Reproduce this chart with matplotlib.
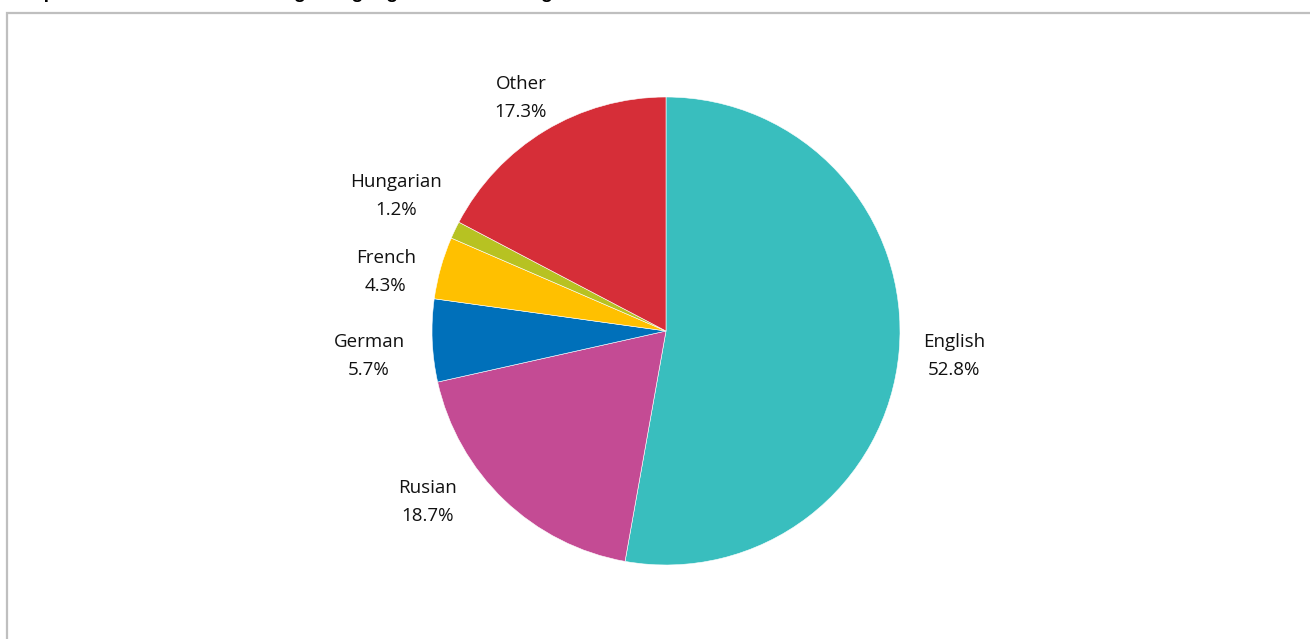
import numpy as np
import matplotlib
matplotlib.use("Agg")
import matplotlib.pyplot as plt
from matplotlib.patches import Rectangle

# --- DATA ---
languages = ["English", "Rusian", "German", "French", "Hungarian", "Other"]
shares = [52.8, 18.7, 5.7, 4.3, 1.2, 17.3]
colors = ["#39BEBE", "#C44B94", "#0070BA", "#FFC000", "#B7C222", "#D62E38"]
title = "Graph 1. Share of titles in foreign languages in the holdings"

# label centres, in units of the pie radius (Excel "best fit" placement)
label_pos = {
    "English": (1.231, -0.107),
    "Rusian": (-1.021, -0.731),
    "German": (-1.269, -0.107),
    "French": (-1.197, 0.252),
    "Hungarian": (-1.154, 0.577),
    "Other": (-0.620, 0.996),
}

W, H = 1310, 639
CX, CY, R = 666, 331, 234  # pie centre and radius in pixels

fig = plt.figure(figsize=(W / 100, H / 100), dpi=100)
ax = fig.add_axes([0, 0, 1, 1])
ax.axis("off")

wedges, _ = ax.pie(shares, colors=colors, startangle=90, counterclock=False,
                   radius=1, wedgeprops=dict(edgecolor="white", linewidth=0.4))

# map pixels to radius units so the pie lands where it should
ax.set_xlim(-CX / R, (W - CX) / R)
ax.set_ylim(-(H - CY) / R, CY / R)
ax.set_aspect("auto")

for lang, val in zip(languages, shares):
    x, y = label_pos[lang]
    ax.text(x, y, f"{lang}\n{val:.1f}%", ha="center", va="center",
            fontsize=13.5, family="Open Sans", linespacing=1.7, color="#111111")

# chart frame (runs off the right and bottom edges)
top = 1 - 13 / H
fig.patches.append(Rectangle((7 / W, -0.2), 1.2, top + 0.2,
                             transform=fig.transFigure, fill=False,
                             edgecolor="#BFBFBF", linewidth=1.6, clip_on=False))

# title, mostly cut off at the top of the image
fig.text(10 / W, 1 + 2.5 / H, title, ha="left", va="baseline",
         fontsize=14, fontweight="bold", family="Liberation Sans")

fig.savefig("out.png", dpi=100)
